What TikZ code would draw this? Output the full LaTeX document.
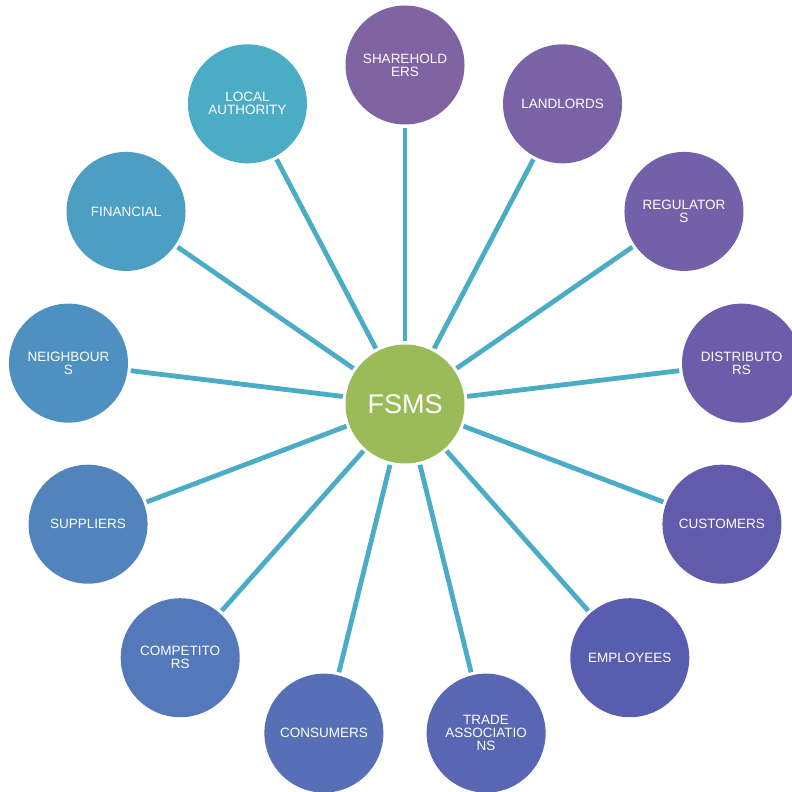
\documentclass[tikz,border=0pt]{standalone}
\usepackage{fontspec}
\setmainfont{Liberation Sans}
\usetikzlibrary{calc}
\definecolor{hub}{HTML}{9BBB59}
\definecolor{spoke}{HTML}{4BACC6}
\definecolor{cA}{HTML}{8064A2}
\definecolor{cB}{HTML}{7A62A6}
\definecolor{cC}{HTML}{7360A8}
\definecolor{cD}{HTML}{6B5DAA}
\definecolor{cE}{HTML}{615BAC}
\definecolor{cF}{HTML}{595DAF}
\definecolor{cG}{HTML}{5866B3}
\definecolor{cH}{HTML}{566FB6}
\definecolor{cI}{HTML}{5479BA}
\definecolor{cJ}{HTML}{5184BD}
\definecolor{cK}{HTML}{4E91C0}
\definecolor{cL}{HTML}{4C9EC3}
\definecolor{cM}{HTML}{4BACC6}
\tikzset{
  hubnode/.style={circle, fill=hub, minimum size=119pt, inner sep=0pt,
    text=white, font=\fontsize{27}{30}\selectfont},
  party/.style={circle, minimum size=119pt, inner sep=0pt, text=white,
    align=center, font=\fontsize{13.5}{13}\selectfont},
  link/.style={draw=spoke, line width=4.8pt, shorten <=3pt, shorten >=3pt}
}
\begin{document}
\begin{tikzpicture}[x=1pt,y=1pt]
\useasboundingbox (0,0) rectangle (792,792);
\clip (0,0) rectangle (792,792);
\node[hubnode] (hub) at (405,388) {FSMS};
\foreach \k/\name/\txt/\col in {
  0/shareholders/SHAREHOLD\\ERS/cA,
  1/landlords/LANDLORDS/cB,
  2/regulators/REGULATOR\\S/cC,
  3/distributors/DISTRIBUTO\\RS/cD,
  4/customers/CUSTOMERS/cE,
  5/employees/EMPLOYEES/cF,
  6/trade/TRADE\\ASSOCIATIO\\NS/cG,
  7/consumers/CONSUMERS/cH,
  8/competitors/COMPETITO\\RS/cI,
  9/suppliers/SUPPLIERS/cJ,
  10/neighbours/NEIGHBOUR\\S/cK,
  11/financial/FINANCIAL/cL,
  12/localauthority/LOCAL\\AUTHORITY/cM}{
  \node[party, fill=\col] (\name) at ($(hub.center)+({90-\k*360/13}:339)$) {\txt};
  \draw[link] (hub) -- (\name);
}
\end{tikzpicture}
\end{document}
